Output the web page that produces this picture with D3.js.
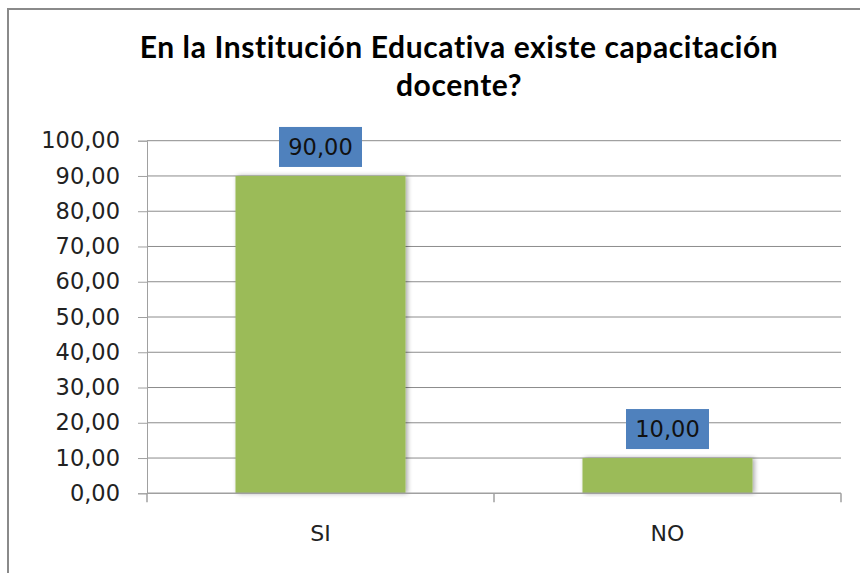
<!DOCTYPE html>
<html>
<head>
<meta charset="utf-8">
<script src="https://cdn.jsdelivr.net/npm/d3@7"></script>
<style>
    body { margin: 0; background: #fff; }
    svg { display: block; }
</style>
</head>
<body>
<div id="chart"></div>
<script>
// Chart data
const categories = ["SI", "NO"];
const values = [90, 10];
const yTicks = [0, 10, 20, 30, 40, 50, 60, 70, 80, 90, 100];
const titleLines = ["En la Institución Educativa existe capacitación", "docente?"];

const W = 860, H = 573;
const margin = { top: 140.7, right: 19, bottom: 79.7, left: 147 };
const width = W - margin.left - margin.right;
const height = H - margin.top - margin.bottom;

// comma as decimal mark
const fmt = d3.formatLocale({ decimal: ",", thousands: ".", grouping: [3], currency: ["", ""] }).format(".2f");

const svg = d3.select("#chart")
    .append("svg")
    .attr("width", W)
    .attr("height", H);

// soft shadow used behind the bars
const defs = svg.append("defs");
const filter = defs.append("filter").attr("id", "shadow")
    .attr("x", "-10%").attr("y", "-10%").attr("width", "125%").attr("height", "120%");
filter.append("feGaussianBlur").attr("in", "SourceAlpha").attr("stdDeviation", 2.5);
filter.append("feOffset").attr("dx", 2).attr("dy", 0).attr("result", "blur");
filter.append("feComponentTransfer").append("feFuncA").attr("type", "linear").attr("slope", 0.35);
const merge = filter.append("feMerge");
merge.append("feMergeNode");
merge.append("feMergeNode").attr("in", "SourceGraphic");

// outer chart frame (runs off the right/bottom of the picture)
svg.append("rect")
    .attr("x", 8).attr("y", 9)
    .attr("width", W + 20).attr("height", H + 20)
    .attr("fill", "none")
    .attr("stroke", "#8a8a8a")
    .attr("stroke-width", 2);

// title
svg.append("text")
    .attr("x", 459)
    .attr("text-anchor", "middle")
    .style("font-family", "Lato, 'Open Sans', sans-serif")
    .style("font-weight", "bold")
    .style("font-size", "30px")
    .style("letter-spacing", "0.6px")
    .attr("fill", "#000")
    .selectAll("tspan")
    .data(titleLines)
    .enter()
    .append("tspan")
    .attr("x", 459)
    .attr("y", (d, i) => 58 + i * 38)
    .text(d => d);

const g = svg.append("g")
    .attr("transform", `translate(${margin.left},${margin.top})`);

// scales
const x = d3.scaleBand()
    .domain(categories)
    .range([0, width])
    .paddingInner(0.51)
    .paddingOuter(0.255);

const y = d3.scaleLinear()
    .domain([0, 100])
    .range([height, 0]);

// gridlines
g.append("g")
    .selectAll("line")
    .data(yTicks.filter(d => d > 0))
    .enter()
    .append("line")
    .attr("x1", 0)
    .attr("x2", width)
    .attr("y1", d => y(d))
    .attr("y2", d => y(d))
    .attr("stroke", "#8c8c8c")
    .attr("stroke-width", 1);

// y axis
const yAxis = g.append("g")
    .call(d3.axisLeft(y).tickValues(yTicks).tickSize(9).tickPadding(18).tickFormat(fmt));
yAxis.selectAll("path, line").attr("stroke", "#a0a0a0");
yAxis.selectAll("text")
    .style("font-family", "'DejaVu Sans', Verdana, sans-serif")
    .style("font-size", "22.5px")
    .attr("fill", "#222");

// bars
g.selectAll(".bar")
    .data(categories)
    .enter()
    .append("rect")
    .attr("class", "bar")
    .attr("x", d => x(d))
    .attr("y", (d, i) => y(values[i]))
    .attr("width", x.bandwidth())
    .attr("height", (d, i) => height - y(values[i]))
    .attr("fill", "#9bbb59")
    .attr("filter", "url(#shadow)");

// x axis
g.append("line")
    .attr("x1", 0).attr("x2", width)
    .attr("y1", height).attr("y2", height)
    .attr("stroke", "#a0a0a0")
    .attr("stroke-width", 1.5);

g.selectAll(".xtick")
    .data(d3.range(categories.length + 1))
    .enter()
    .append("line")
    .attr("class", "xtick")
    .attr("x1", i => i * x.step())
    .attr("x2", i => i * x.step())
    .attr("y1", height)
    .attr("y2", height + 9)
    .attr("stroke", "#a0a0a0")
    .attr("stroke-width", 1.5);

const xAxis = g.append("g")
    .attr("transform", `translate(0,${height})`)
    .call(d3.axisBottom(x).tickSize(0).tickPadding(32));
xAxis.select(".domain").remove();
xAxis.selectAll("text")
    .style("font-family", "'DejaVu Sans', Verdana, sans-serif")
    .style("font-size", "22px")
    .attr("fill", "#222");

// value labels in blue boxes
const boxW = 83, boxH = 40;
const labels = g.selectAll(".label")
    .data(categories)
    .enter()
    .append("g")
    .attr("class", "label")
    .attr("transform", (d, i) => `translate(${x(d) + x.bandwidth() / 2},${y(values[i]) - 9 - boxH / 2})`);

labels.append("rect")
    .attr("x", -boxW / 2)
    .attr("y", -boxH / 2)
    .attr("width", boxW)
    .attr("height", boxH)
    .attr("fill", "#4f81bd");

labels.append("text")
    .attr("text-anchor", "middle")
    .attr("dy", "0.36em")
    .style("font-family", "'DejaVu Sans', Verdana, sans-serif")
    .style("font-size", "22.5px")
    .attr("fill", "#111")
    .text((d, i) => fmt(values[i]));
</script>
</body>
</html>
